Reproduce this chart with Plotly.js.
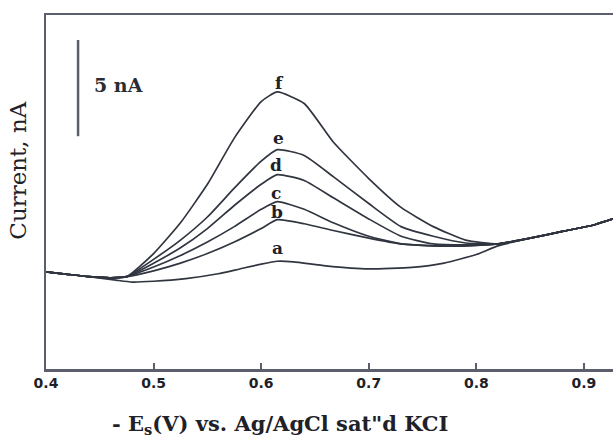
<!DOCTYPE html>
<html>
<head>
<meta charset="utf-8">
<script src="https://cdn.plot.ly/plotly-3.0.1.min.js"></script>
<style>html,body{margin:0;padding:0;background:#fff;}#chart{width:615px;height:439px;}</style>
</head>
<body>
<div id="chart"></div>
<script>
// Potential (-E, V) and current (nA)
const curveNames = ["a", "b", "c", "d", "e", "f"];
const xA = [0.40, 0.42, 0.44, 0.465, 0.48, 0.50, 0.53, 0.56, 0.58, 0.60, 0.615, 0.63, 0.66, 0.70, 0.74, 0.77, 0.80, 0.82, 0.85, 0.88, 0.91, 0.927];
const yA = [5.05, 4.92, 4.80, 4.62, 4.52, 4.56, 4.70, 4.95, 5.20, 5.45, 5.60, 5.57, 5.36, 5.20, 5.28, 5.50, 5.95, 6.40, 6.80, 7.15, 7.50, 7.80];
const xCommon = [0.40, 0.42, 0.44, 0.46, 0.475, 0.50, 0.525, 0.55, 0.575, 0.60, 0.615, 0.64, 0.667, 0.70, 0.73, 0.76, 0.79, 0.82, 0.85, 0.88, 0.91, 0.927];
const yB = [5.05, 4.92, 4.80, 4.74, 4.80, 5.10, 5.50, 6.00, 6.60, 7.30, 7.76, 7.55, 7.20, 6.80, 6.50, 6.40, 6.40, 6.50, 6.80, 7.15, 7.50, 7.80];
const yC = [5.05, 4.92, 4.80, 4.74, 4.80, 5.30, 5.90, 6.60, 7.40, 8.30, 8.70, 8.30, 7.60, 6.90, 6.50, 6.40, 6.40, 6.50, 6.80, 7.15, 7.50, 7.80];
const yD = [5.05, 4.92, 4.80, 4.74, 4.80, 5.50, 6.30, 7.30, 8.50, 9.60, 10.10, 9.80, 8.90, 7.80, 6.90, 6.50, 6.45, 6.50, 6.80, 7.15, 7.50, 7.80];
const yE = [5.05, 4.92, 4.80, 4.74, 4.80, 5.70, 6.70, 7.90, 9.40, 10.80, 11.40, 11.10, 10.00, 8.60, 7.40, 6.90, 6.55, 6.50, 6.80, 7.15, 7.50, 7.80];
const yF = [5.05, 4.92, 4.80, 4.74, 4.80, 6.00, 7.60, 9.60, 12.00, 13.90, 14.40, 13.80, 11.80, 9.90, 8.40, 7.40, 6.70, 6.50, 6.80, 7.15, 7.50, 7.80];
// label positions (x, y) for the curve letters
const labelX = [0.615, 0.615, 0.614, 0.614, 0.616, 0.617];
const labelY = [6.30, 8.18, 9.17, 10.60, 12.00, 14.85];
const xTicks = [0.4, 0.5, 0.6, 0.7, 0.8, 0.9];
const xTickText = ["0.4", "0.5", "0.6", "0.7", "0.8", "0.9"];

const lineColor = "#30353f";
const series = [[xA, yA], [xCommon, yB], [xCommon, yC], [xCommon, yD], [xCommon, yE], [xCommon, yF]];
const traces = series.map((s, i) => ({
  x: s[0], y: s[1], type: "scatter", mode: "lines", name: curveNames[i],
  line: {color: lineColor, width: 1.7, shape: "spline", smoothing: 0.5},
  hoverinfo: "skip"
}));

const annotations = curveNames.map((n, i) => ({
  x: labelX[i], y: labelY[i], xref: "x", yref: "y", text: n, showarrow: false,
  font: {family: "DejaVu Serif", size: 17, color: "#1e2128", weight: "bold"}
}));
annotations.push({
  x: 0.443, y: 14.75, xref: "x", yref: "y", xanchor: "left", text: "5 nA", showarrow: false,
  font: {family: "DejaVu Serif", size: 19, color: "#2a2d34", weight: "bold"}
});
annotations.push({
  x: 0.413, y: -0.158, xref: "paper", yref: "paper", xanchor: "center", yanchor: "middle",
  text: "- E<sub>s</sub>(V) vs. Ag/AgCl sat\"d KCI", showarrow: false,
  font: {family: "DejaVu Serif", size: 21, color: "#1e2128", weight: "bold"}
});
annotations.push({
  x: -0.05, y: 0.562, xref: "paper", yref: "paper", xanchor: "center", yanchor: "middle",
  text: "Current, nA", textangle: -90, showarrow: false,
  font: {family: "DejaVu Serif", size: 23, color: "#1e2128"}
});

const layout = {
  width: 615, height: 439,
  margin: {l: 46, r: 2, t: 15, b: 70},
  paper_bgcolor: "#ffffff", plot_bgcolor: "#ffffff",
  showlegend: false,
  xaxis: {
    range: [0.4, 0.927], tickvals: xTicks, ticktext: xTickText,
    ticks: "inside", ticklen: 6, tickwidth: 2, tickcolor: "#5a5f6b",
    showline: true, linecolor: "#5a5f6b", linewidth: 2.5, mirror: true,
    showgrid: false, zeroline: false,
    tickfont: {family: "DejaVu Sans", size: 14, color: "#1e2128", weight: "bold"}
  },
  yaxis: {
    range: [0, 18.4], showticklabels: false, ticks: "",
    showline: true, linecolor: "#5a5f6b", linewidth: 2.5, mirror: false,
    showgrid: false, zeroline: false
  },
  shapes: [{
    type: "line", xref: "x", yref: "y", x0: 0.4298, x1: 0.4298, y0: 12.1, y1: 17.1,
    line: {color: "#5a5f6b", width: 2.5}
  }],
  annotations: annotations
};

Plotly.newPlot("chart", traces, layout, {displayModeBar: false, staticPlot: true});
</script>
</body>
</html>
